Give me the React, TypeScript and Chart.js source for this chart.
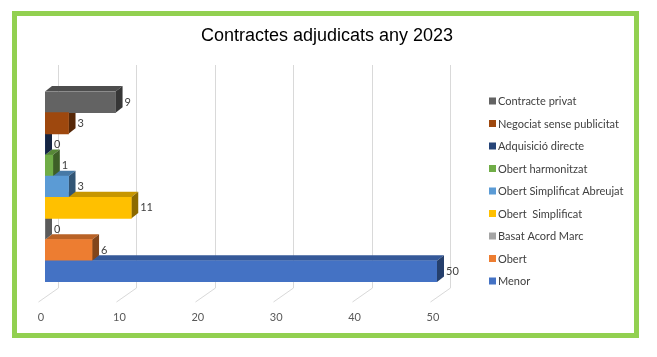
import { useEffect, useRef } from "react";
import { Chart, registerables } from "chart.js";
Chart.register(...registerables);

const chartTitle = "Contractes adjudicats any 2023";
const categories = [
  "Contracte privat",
  "Negociat sense publicitat",
  "Adquisició directe",
  "Obert harmonitzat",
  "Obert Simplificat Abreujat",
  "Obert  Simplificat",
  "Basat Acord Marc",
  "Obert",
  "Menor",
];
const values = [9, 3, 0, 1, 3, 11, 0, 6, 50];
const colors = ["#636363", "#9E480E", "#264478", "#70AD47", "#5B9BD5", "#FFC000", "#A5A5A5", "#ED7D31", "#4472C4"];
const xTicks = [0, 10, 20, 30, 40, 50];

const DX = 7;
const DY = -5.5;
const FONT = "Lato";

function shade(hex: string, f: number) {
  const n = parseInt(hex.slice(1), 16);
  const r = Math.round(((n >> 16) & 255) * f);
  const g = Math.round(((n >> 8) & 255) * f);
  const b = Math.round((n & 255) * f);
  return `rgb(${r},${g},${b})`;
}

function poly(ctx: CanvasRenderingContext2D, pts: number[][], fill: string) {
  ctx.beginPath();
  ctx.moveTo(pts[0][0], pts[0][1]);
  for (let i = 1; i < pts.length; i++) ctx.lineTo(pts[i][0], pts[i][1]);
  ctx.closePath();
  ctx.fillStyle = fill;
  ctx.fill();
}

const deco = {
  id: "deco",
  beforeDraw(chart: any) {
    const ctx: CanvasRenderingContext2D = chart.ctx;
    ctx.save();
    ctx.fillStyle = "#ffffff";
    ctx.fillRect(0, 0, chart.width, chart.height);
    ctx.strokeStyle = "#92D050";
    ctx.lineWidth = 5;
    ctx.strokeRect(14.5, 13.5, 622, 322);
    ctx.fillStyle = "#000000";
    ctx.font = `18px 'Liberation Sans'`;
    ctx.textAlign = "center";
    ctx.textBaseline = "middle";
    ctx.fillText(chartTitle, 327, 36);
    ctx.font = `11px ${FONT}`;
    ctx.textAlign = "left";
    categories.forEach((c, i) => {
      const y = 101 + 22.5 * i;
      ctx.fillStyle = colors[i];
      ctx.fillRect(489, y - 3.5, 7, 7);
      ctx.fillStyle = "#404040";
      ctx.fillText(c, 498, y + 0.5);
    });
    ctx.restore();
  },
  beforeDatasetsDraw(chart: any) {
    const ctx: CanvasRenderingContext2D = chart.ctx;
    const xs = chart.scales.x;
    ctx.save();
    ctx.strokeStyle = "#D9D9D9";
    ctx.lineWidth = 1;
    xTicks.forEach((v) => {
      const px = Math.round(xs.getPixelForValue(v)) + 0.5;
      ctx.beginPath();
      ctx.moveTo(px + 13, 65);
      ctx.lineTo(px + 13, 288);
      ctx.lineTo(px - 7, 302);
      ctx.stroke();
    });
    const meta = chart.getDatasetMeta(0);
    for (let i = meta.data.length - 1; i >= 0; i--) {
      const el = meta.data[i];
      const p = el.getProps(["x", "y", "base", "height"], true);
      const top = p.y - p.height / 2;
      const bottom = p.y + p.height / 2;
      const left = p.base;
      const end = p.x;
      poly(ctx, [[left, top], [end, top], [end + DX, top + DY], [left + DX, top + DY]], shade(colors[i], 0.78));
      poly(ctx, [[end, top], [end, bottom], [end + DX, bottom + DY], [end + DX, top + DY]], shade(colors[i], 0.55));
    }
    ctx.restore();
  },
  afterDatasetsDraw(chart: any) {
    const ctx: CanvasRenderingContext2D = chart.ctx;
    const meta = chart.getDatasetMeta(0);
    ctx.save();
    ctx.font = `11px ${FONT}`;
    ctx.fillStyle = "#404040";
    ctx.textAlign = "left";
    ctx.textBaseline = "middle";
    meta.data.forEach((el: any, i: number) => {
      const p = el.getProps(["x", "y"], true);
      ctx.fillText(String(values[i]), p.x + DX + 2, p.y);
    });
    ctx.restore();
  },
};

export default function App() {
  const ref = useRef<HTMLCanvasElement | null>(null);
  useEffect(() => {
    if (!ref.current) return;
    const chart = new Chart(ref.current, {
      type: "bar",
      data: {
        labels: categories,
        datasets: [
          {
            data: values,
            backgroundColor: colors,
            borderWidth: 0,
            barPercentage: 1,
            categoryPercentage: 1,
          },
        ],
      },
      options: {
        indexAxis: "y",
        responsive: false,
        animation: false,
        layout: { padding: { left: 45, right: 220, top: 91.5, bottom: 35 } },
        plugins: {
          legend: { display: false },
          title: { display: false },
          tooltip: { enabled: false },
        },
        scales: {
          x: {
            min: 0,
            max: 50,
            ticks: {
              stepSize: 10,
              labelOffset: -4,
              padding: 29,
              color: "#595959",
              font: { family: FONT, size: 11 },
            },
            grid: { display: false, drawTicks: false },
            border: { display: false },
            afterFit(s: any) {
              s.height = 40;
            },
          },
          y: { display: false },
        },
      },
      plugins: [deco],
    } as any);
    return () => chart.destroy();
  }, []);
  return (
    <div style={{ position: "absolute", left: 0, top: 0, width: 657, height: 357 }}>
      <canvas ref={ref} width={657} height={357} style={{ width: 657, height: 357 }} />
    </div>
  );
}
